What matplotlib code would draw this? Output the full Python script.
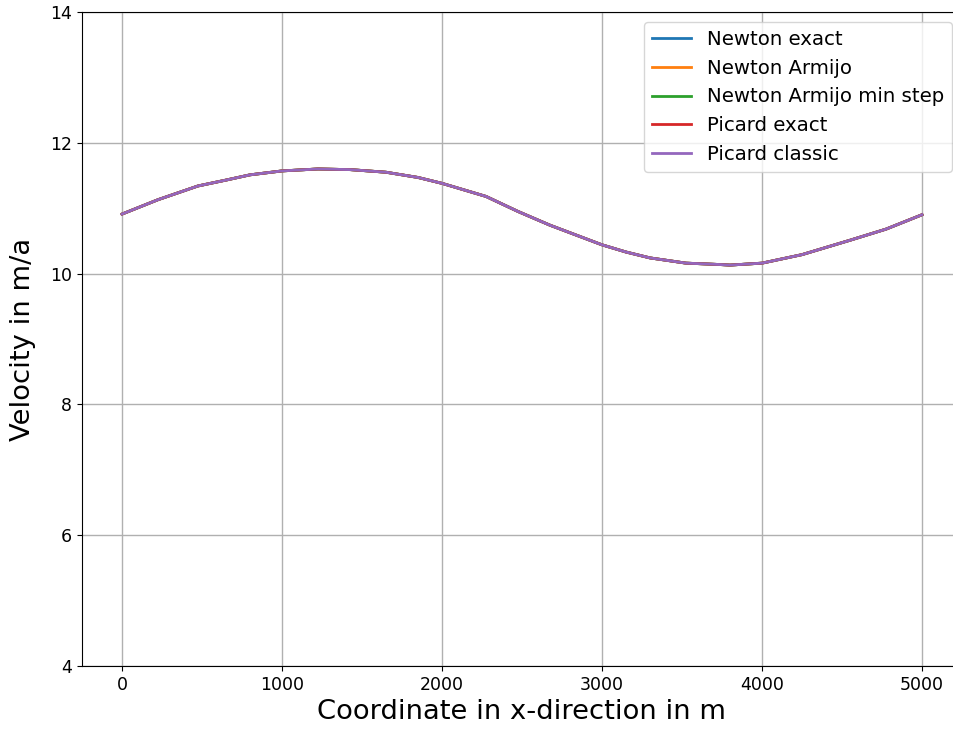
import numpy as np
import matplotlib
matplotlib.use('Agg')
import matplotlib.pyplot as plt

# coordinate along the domain (m)
x = [0, 225, 475, 650, 800, 1000, 1225, 1425, 1650, 1850, 2000, 2275, 2475, 2675,
     3000, 3150, 3300, 3525, 3725, 3800, 4000, 4250, 4400, 4550, 4775, 5000]
# velocity (m/a), all solvers converge to the same solution
vel = [10.91, 11.13, 11.34, 11.43, 11.51, 11.57, 11.60, 11.59, 11.55, 11.47, 11.38,
       11.18, 10.95, 10.74, 10.44, 10.33, 10.24, 10.16, 10.14, 10.13, 10.16, 10.29,
       10.40, 10.51, 10.68, 10.90]

labels = ['Newton exact', 'Newton Armijo', 'Newton Armijo min step',
          'Picard exact', 'Picard classic']

fig = plt.figure(figsize=(9.54, 7.33), dpi=100)
ax = fig.add_axes([82/954, 67/733, 880/954, 654/733])

for lab in labels:
    ax.plot(x, vel, label=lab, linewidth=2)

ax.set_ylim(4, 14)
ax.set_xlabel('Coordinate in x-direction in m', fontsize=19.7)
ax.set_ylabel('Velocity in m/a', fontsize=19.7, labelpad=10)
ax.tick_params(labelsize=12.5)
ax.grid(True, color='#b0b0b0', linewidth=1)
ax.legend(loc='upper right', fontsize=14.2)

fig.savefig('out.png', dpi=100)
